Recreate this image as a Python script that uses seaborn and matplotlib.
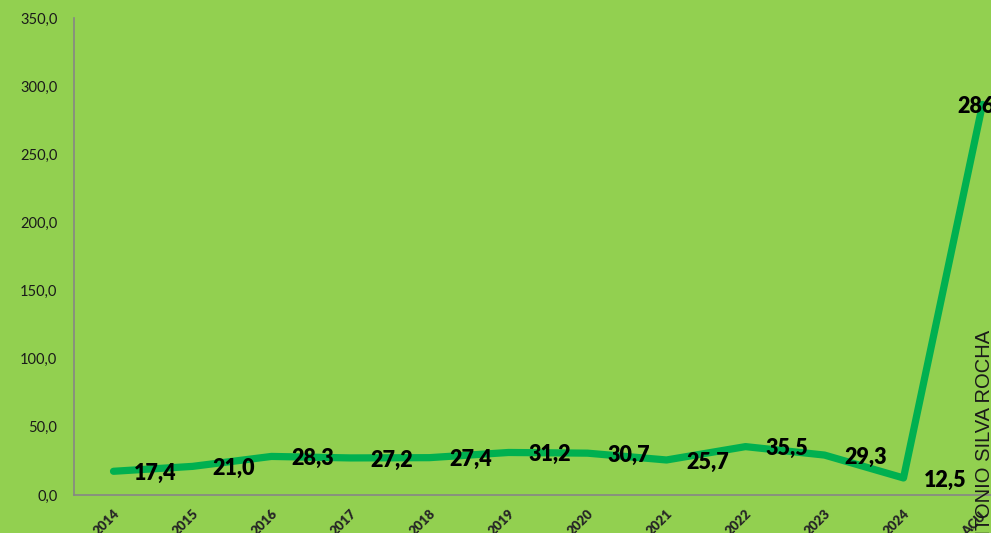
import matplotlib
matplotlib.use("Agg")
import matplotlib.pyplot as plt
import seaborn as sns
import pandas as pd

# values
anos = ["2014", "2015", "2016", "2017", "2018", "2019", "2020",
        "2021", "2022", "2023", "2024", "ACU."]
valores = [17.4, 21.0, 28.3, 27.2, 27.4, 31.2, 30.7, 25.7, 35.5, 29.3, 12.5, 286.6]
rotulos = ["17,4", "21,0", "28,3", "27,2", "27,4", "31,2", "30,7",
           "25,7", "35,5", "29,3", "12,5", "286,6"]
y_ticks = [0, 50, 100, 150, 200, 250, 300, 350]

bg = "#92D050"
verde = "#00B050"
cinza = "#868686"

sns.set_style("white")
plt.rcParams["font.family"] = ["Lato", "DejaVu Sans"]

df = pd.DataFrame({"ano": anos, "valor": valores})

fig = plt.figure(figsize=(9.91, 5.33), dpi=100, facecolor=bg)
ax = fig.add_axes([74 / 991, 38 / 533, 948 / 991, 477 / 533])
ax.set_facecolor(bg)

sns.lineplot(data=df, x="ano", y="valor", sort=False, color=verde,
             linewidth=5.2, ax=ax, solid_capstyle="round")

ax.set_xlim(-0.5, len(anos) - 0.5)
ax.set_ylim(0, 350)
ax.set_yticks(y_ticks)
ax.set_yticklabels([f"{v:.1f}".replace(".", ",") for v in y_ticks],
                   fontsize=10.5, color="#1a1a1a")
ax.set_xticks(range(len(anos)))
ax.set_xticklabels(anos, rotation=45, ha="right", rotation_mode="anchor",
                   fontsize=9.5, fontweight="heavy")
ax.tick_params(axis="x", length=0, pad=9)
ax.tick_params(axis="y", length=5, color=cinza, width=1, pad=7, direction="out")
# category boundary ticks on the x axis
ax.set_xticks([i - 0.5 for i in range(len(anos) + 1)], minor=True)
ax.tick_params(axis="x", which="minor", length=5, color=cinza, width=1)

for s in ["top", "right"]:
    ax.spines[s].set_visible(False)
for s in ["left", "bottom"]:
    ax.spines[s].set_color(cinza)
    ax.spines[s].set_linewidth(1.2)

ax.set_xlabel("")
ax.set_ylabel("")

for i, (v, t) in enumerate(zip(valores, rotulos)):
    dx = 20 if i < len(valores) - 1 else -25
    ax.annotate(t, (i, v), xytext=(dx * 0.72, -1.5), textcoords="offset points",
                ha="left", va="center", fontsize=15.5, fontweight="heavy",
                color="black", annotation_clip=False)

fig.text(985 / 991, 1 - 330 / 533, "ANTONIO SILVA ROCHA", rotation=90,
         rotation_mode="anchor", ha="right", va="center", fontsize=14.5,
         family=["Liberation Sans"], color="#1a1a1a")

fig.savefig("out.png", dpi=100, facecolor=bg)
